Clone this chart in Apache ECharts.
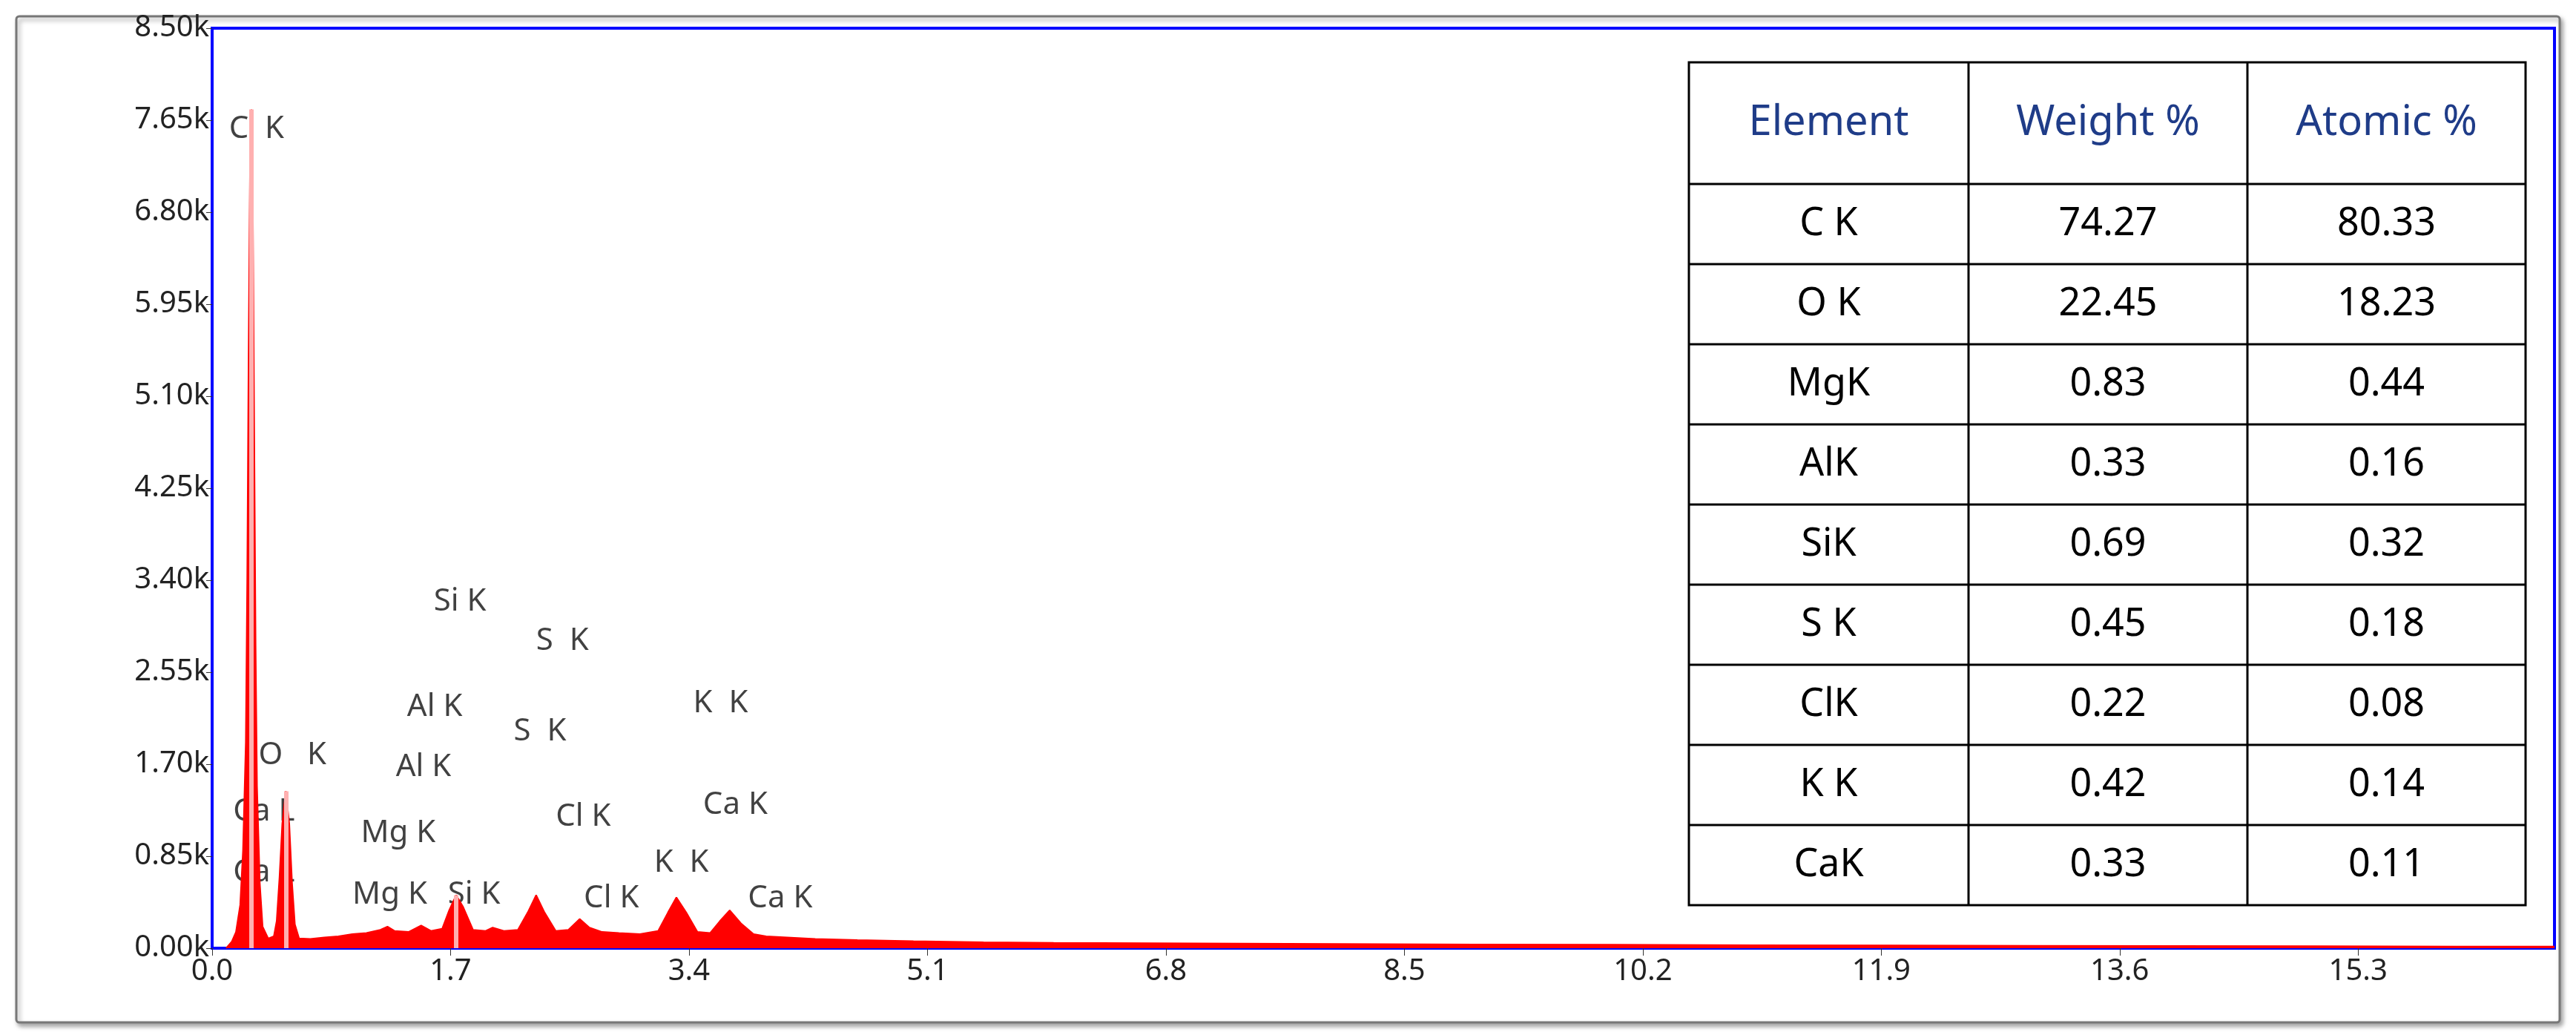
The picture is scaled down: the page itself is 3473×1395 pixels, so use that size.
<!DOCTYPE html>
<html>
<head>
<meta charset="utf-8">
<script src="https://cdn.jsdelivr.net/npm/echarts@6/dist/echarts.min.js"></script>
<style>html,body{margin:0;padding:0;background:#fff}#main{width:3473px;height:1395px}</style>
</head>
<body>
<div id="main"></div>
<script>
// EDS spectrum, energy keV vs counts
var spectrum = [
  [0.10,0],[0.14,60],[0.17,150],[0.20,400],[0.22,900],[0.24,1900],[0.25,3400],[0.26,5500],[0.27,7200],[0.28,7750],
  [0.29,6900],[0.30,4800],[0.31,2800],[0.32,1500],[0.34,600],[0.36,200],[0.40,90],[0.44,110],[0.46,250],[0.48,650],
  [0.50,1150],[0.525,1450],[0.55,1150],[0.57,600],[0.59,220],[0.62,90],[0.70,85],[0.80,100],[0.90,110],[1.00,130],
  [1.10,140],[1.20,170],[1.25,200],[1.30,160],[1.40,150],[1.49,210],[1.56,160],[1.64,180],[1.69,350],[1.74,490],
  [1.79,380],[1.86,170],[1.95,160],[2.00,190],[2.08,160],[2.18,170],[2.25,330],[2.31,490],[2.37,330],[2.45,160],
  [2.54,170],[2.62,270],[2.69,190],[2.78,150],[2.90,140],[3.05,130],[3.18,160],[3.25,330],[3.31,470],[3.38,330],
  [3.46,150],[3.55,140],[3.62,250],[3.69,350],[3.77,230],[3.86,130],[3.95,110],[4.1,100],[4.3,85],[4.6,75],
  [5.0,65],[5.5,55],[6.0,50],[7.0,45],[8.0,40],[9.0,35],[10,32],[11,28],[12,25],[13,22],[14,20],[15,18],[16,16],[16.7,15]
];
// peak labels: [energy at text start, counts, text]
var peakLabels = [
  [0.12,7570,'C  K'],[0.33,1780,'O   K'],[0.15,1260,'Ca L'],[0.15,700,'Ca L'],
  [1.06,1060,'Mg K'],[1.00,490,'Mg K'],[1.68,490,'Si K'],[1.31,1670,'Al K'],[1.39,2230,'Al K'],
  [1.58,3200,'Si K'],[2.31,2840,'S  K'],[2.15,2000,'S  K'],[2.45,1210,'Cl K'],[2.65,460,'Cl K'],
  [3.43,2260,'K  K'],[3.15,790,'K  K'],[3.50,1320,'Ca K'],[3.82,460,'Ca K']
];
var markedPeaks = [[0.28,7750],[0.525,1450],[1.74,490]];
var tableHeader = ['Element','Weight %','Atomic %'];
var elements = ['C K','O K','MgK','AlK','SiK','S K','ClK','K K','CaK'];
var weightPct = ['74.27','22.45','0.83','0.33','0.69','0.45','0.22','0.42','0.33'];
var atomicPct = ['80.33','18.23','0.44','0.16','0.32','0.18','0.08','0.14','0.11'];

var font = 'Noto Sans, DejaVu Sans, sans-serif';
var graphic = [{
  type:'rect', shape:{x:22,y:22,width:3429,height:1356,r:4}, z:-1,
  style:{fill:'#fff',stroke:'#777',lineWidth:3,shadowColor:'rgba(0,0,0,0.35)',shadowBlur:6,shadowOffsetX:3,shadowOffsetY:4}
}];
var tx = [2277,2654,3030,3405], ty0 = 84, hh = 164, rh = 108;
var tbl = [];
tbl.push({type:'rect',shape:{x:tx[0],y:ty0,width:tx[3]-tx[0],height:hh+rh*elements.length},style:{fill:'#fff',stroke:'#000',lineWidth:3}});
for (var c=1;c<3;c++) tbl.push({type:'line',shape:{x1:tx[c],y1:ty0,x2:tx[c],y2:ty0+hh+rh*elements.length},style:{stroke:'#000',lineWidth:3}});
for (var r=0;r<elements.length;r++) tbl.push({type:'line',shape:{x1:tx[0],y1:ty0+hh+rh*r,x2:tx[3],y2:ty0+hh+rh*r},style:{stroke:'#000',lineWidth:3}});
for (var c=0;c<3;c++) {
  tbl.push({type:'text',x:(tx[c]+tx[c+1])/2,y:ty0+hh/2,style:{text:tableHeader[c],fill:'#1f3c88',font:'56px '+font,align:'center',verticalAlign:'middle'}});
  var col = [elements,weightPct,atomicPct][c];
  for (var r=0;r<col.length;r++)
    tbl.push({type:'text',x:(tx[c]+tx[c+1])/2,y:ty0+hh+rh*r+rh/2,style:{text:col[r],fill:'#000',font:'52px '+font,align:'center',verticalAlign:'middle'}});
}
graphic = graphic.concat(tbl);

var chart = echarts.init(document.getElementById('main'));
chart.setOption({
  animation:false,
  grid:{left:286,top:38,right:29,bottom:117,show:true,borderColor:'#0000ff',borderWidth:4},
  xAxis:{type:'value',min:0,max:16.7,interval:1.7,
    axisLine:{lineStyle:{color:'#0000ff',width:4}},
    axisTick:{length:10,lineStyle:{color:'#333'}},
    splitLine:{show:false},
    axisLabel:{showMaxLabel:false,color:'#222',fontSize:40,fontFamily:font,margin:12,formatter:function(v){return v.toFixed(1);}}},
  yAxis:{type:'value',min:0,max:8500,interval:850,
    axisLine:{show:true,lineStyle:{color:'#0000ff',width:4}},
    axisTick:{show:true,length:8,lineStyle:{color:'#333'}},
    splitLine:{show:false},
    axisLabel:{color:'#222',fontSize:40,fontFamily:font,margin:4,formatter:function(v){return (v/1000).toFixed(2)+'k';}}},
  graphic:graphic,
  series:[{
    type:'line',data:spectrum,symbol:'none',
    lineStyle:{color:'#ff0000',width:2},
    areaStyle:{color:'#ff0000',opacity:1},
    markLine:{silent:true,symbol:'none',label:{show:false},lineStyle:{color:'#ffb0b0',width:6,type:'solid'},
      data:markedPeaks.map(function(p){return [{coord:[p[0],0]},{coord:[p[0],p[1]]}];})}
  },{
    type:'scatter',symbolSize:0,silent:true,
    data:peakLabels.map(function(p){return {value:[p[0],p[1]],name:p[2]};}),
    label:{show:true,position:'right',distance:0,color:'#111',fontSize:42,fontFamily:font,formatter:function(p){return p.name;}}
  }]
});
</script>
</body>
</html>
